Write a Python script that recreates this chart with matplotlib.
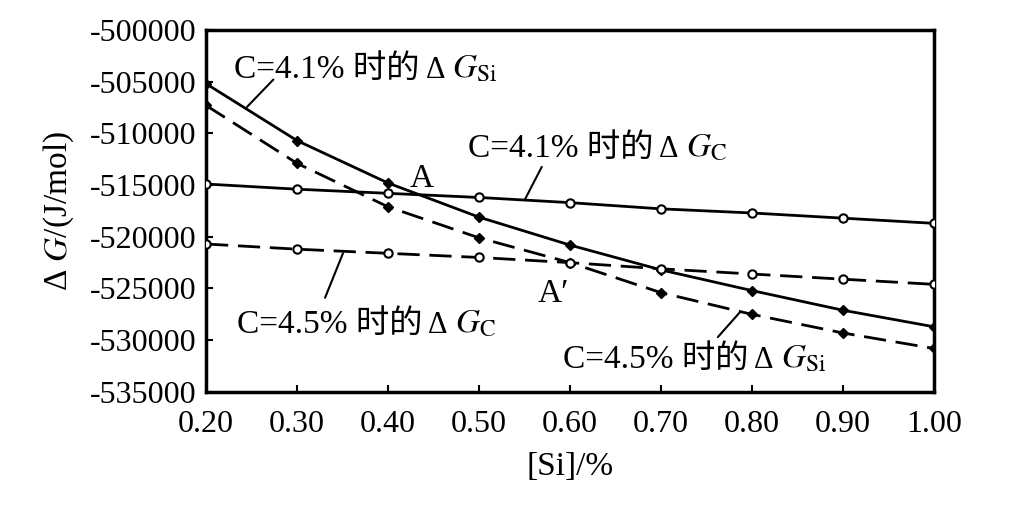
import numpy as np
import matplotlib
matplotlib.use("Agg")
import matplotlib.pyplot as plt

plt.rcParams['font.family'] = ['Liberation Serif', 'Noto Sans CJK SC']
plt.rcParams['mathtext.fontset'] = 'stix'

# data
si = [0.20, 0.30, 0.40, 0.50, 0.60, 0.70, 0.80, 0.90, 1.00]
dg_si_41 = [-505200, -510700, -514800, -518100, -520800, -523200, -525200, -527100, -528700]
dg_si_45 = [-507300, -512900, -517100, -520100, -522500, -525400, -527500, -529300, -530800]
dg_c_41 = [-514900, -515400, -515800, -516200, -516700, -517300, -517700, -518200, -518700]
dg_c_45 = [-520700, -521200, -521600, -522000, -522500, -523100, -523600, -524100, -524600]

xticks = [0.20, 0.30, 0.40, 0.50, 0.60, 0.70, 0.80, 0.90, 1.00]
yticks = [-535000, -530000, -525000, -520000, -515000, -510000, -505000, -500000]

fig = plt.figure(figsize=(10.15, 5.07), dpi=100)
ax = fig.add_axes([0.203, 0.227, 0.717, 0.714])

dash = (0, (8, 3.5))
lw = 2.0
ax.plot(si, dg_si_41, color='k', lw=lw, marker='D', ms=5, mfc='k', zorder=3)
ax.plot(si, dg_si_45, color='k', lw=lw, ls=dash, marker='D', ms=5, mfc='k', zorder=3)
ax.plot(si, dg_c_41, color='k', lw=lw, marker='o', ms=6, mfc='white', mew=1.5, zorder=3)
ax.plot(si, dg_c_45, color='k', lw=lw, ls=dash, marker='o', ms=6, mfc='white', mew=1.5, zorder=3)

ax.set_xlim(0.2, 1.0)
ax.set_ylim(-535000, -500000)
ax.set_xticks(xticks)
ax.set_xticklabels([f"{v:.2f}" for v in xticks])
ax.set_yticks(yticks)
ax.set_yticklabels([str(v) for v in yticks])
ax.tick_params(direction='in', length=5, width=1.5, labelsize=23)
ax.tick_params(axis='x', pad=13)
ax.tick_params(axis='y', pad=7)
for s in ax.spines.values():
    s.set_linewidth(2.5)

ax.set_xlabel("[Si]/%", fontsize=24, labelpad=9)
ax.set_ylabel("Δ $G$/(J/mol)", fontsize=24, labelpad=10)

fs = 24


def label(x, y, prefix, sub):
    t1 = ax.text(x, y, prefix, fontsize=fs, va='baseline', ha='left')
    t2 = ax.annotate("Δ", xy=(1, y), xycoords=(t1, 'data'), xytext=(4, 0),
                     textcoords='offset points', fontsize=22, va='baseline')
    ax.annotate("$G_{\\mathrm{%s}}$" % sub, xy=(1, y), xycoords=(t2, 'data'), xytext=(5, 0),
                textcoords='offset points', fontsize=fs, va='baseline')


def leader(p0, p1):
    ax.annotate("", xy=p0, xytext=p1, arrowprops=dict(arrowstyle='-', color='k', lw=1.5,
                                                      shrinkA=0, shrinkB=0))


label(0.231, -504640, "C=4.1% 时的", "Si")
leader((0.245, -507450), (0.274, -504800))
label(0.488, -512280, "C=4.1% 时的", "C")
leader((0.5505, -516400), (0.569, -513250))
label(0.234, -529300, "C=4.5% 时的", "C")
leader((0.3505, -521600), (0.3308, -525900))
label(0.5923, -532680, "C=4.5% 时的", "Si")
leader((0.7868, -527300), (0.7626, -529700))

ax.text(0.4374, -514400, "A", fontsize=fs, ha='center', va='center')
ax.text(0.582, -525500, "A′", fontsize=fs, ha='center', va='center')

fig.savefig("out.png", dpi=100)
